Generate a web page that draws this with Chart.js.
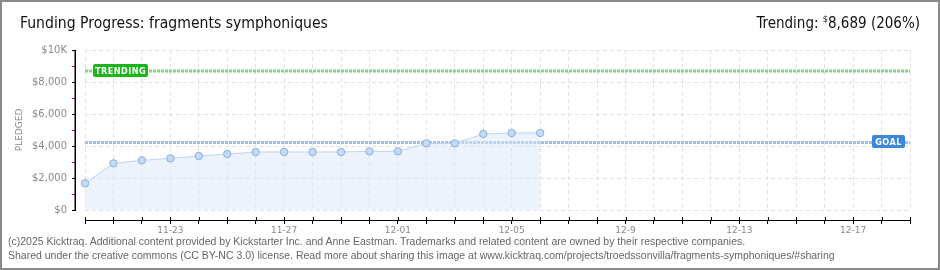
<!DOCTYPE html>
<html>
<head>
<meta charset="utf-8">
<script src="https://cdn.jsdelivr.net/npm/chart.js@4/dist/chart.umd.min.js"></script>
<style>
    body { margin: 0; background: #fff; }
    #wrap { position: relative; width: 940px; height: 270px; overflow: hidden; }
    #chart { position: absolute; left: 0; top: 0; }
    #frame { position: absolute; left: 0; top: 0; width: 940px; height: 270px; box-sizing: border-box; border: 2px solid #8a8a8a; pointer-events: none; }
    .title { position: absolute; left: 20px; top: 14px; font: 15.6px "DejaVu Sans Condensed", "DejaVu Sans", sans-serif; color: #111; white-space: nowrap; }
    .trend { position: absolute; right: 20px; top: 14px; font: 15px "DejaVu Sans Condensed", "DejaVu Sans", sans-serif; color: #111; white-space: nowrap; }
    .trend sup { font-size: 9px; vertical-align: 6px; }
    .foot { position: absolute; left: 8px; font: 10.5px "Liberation Sans", Arial, sans-serif; color: #666; white-space: nowrap; }
</style>
</head>
<body>
<div id="wrap">
    <canvas id="chart" width="940" height="270"></canvas>
    <div class="title">Funding Progress: fragments symphoniques</div>
    <div class="trend">Trending: <sup>$</sup>8,689 (206%)</div>
    <div class="foot" style="top:235px">(c)2025 Kicktraq. Additional content provided by Kickstarter Inc. and Anne Eastman. Trademarks and related content are owned by their respective companies.</div>
    <div class="foot" style="top:249px">Shared under the creative commons (CC BY-NC 3.0) license. Read more about sharing this image at www.kicktraq.com/projects/troedssonvilla/fragments-symphoniques/#sharing</div>
    <div id="frame"></div>
</div>
<script>
const days = ["11-20", "11-21", "11-22", "11-23", "11-24", "11-25", "11-26", "11-27", "11-28", "11-29", "11-30",
    "12-01", "12-02", "12-03", "12-04", "12-05", "12-06", "12-07", "12-08", "12-09", "12-10",
    "12-11", "12-12", "12-13", "12-14", "12-15", "12-16", "12-17", "12-18", "12-19"];
const pledged = [1667, 2917, 3104, 3229, 3375, 3500, 3625, 3625, 3625, 3625, 3667, 3667, 4167, 4167, 4750, 4813, 4813];
const goal = 4220;
const trending = 8689;
const dayTickLabels = ["11-23", "11-27", "12-01", "12-05", "12-9", "12-13", "12-17"];
const yMax = 10000;

// axis lines sit a few px away from the plot area, like the original
const axisLines = {
    id: "axisLines",
    afterDraw(chart) {
        const { ctx, scales: { x, y } } = chart;
        ctx.save();
        ctx.fillStyle = "#000";
        ctx.fillRect(y.right - 1.5, y.top, 1.5, y.bottom - y.top + 1);
        ctx.fillRect(x.left, x.top, x.right - x.left + 1, 1);
        x.ticks.forEach((t, i) => {
            const px = Math.round(x.getPixelForTick(i));
            ctx.fillRect(px, x.top - 3, 1, 3);
        });
        ctx.restore();
    }
};

// flag boxes sitting on the goal / trending lines
const flags = {
    id: "flags",
    afterDatasetsDraw(chart) {
        const { ctx, chartArea, scales } = chart;
        const draw = (text, value, bg, left, w) => {
            const y = Math.round(scales.y.getPixelForValue(value));
            ctx.save();
            ctx.fillStyle = bg;
            ctx.beginPath();
            ctx.roundRect(left, y - 7, w, 13, 2);
            ctx.fill();
            ctx.fillStyle = "#fff";
            ctx.font = "bold 9px 'DejaVu Sans Condensed'";
            ctx.letterSpacing = "0.5px";
            ctx.textBaseline = "middle";
            ctx.textAlign = "center";
            ctx.fillText(text, left + w / 2, y + 0.5);
            ctx.restore();
        };
        draw("TRENDING", trending, "#1cb51c", chartArea.left + 8, 55);
        draw("GOAL", goal, "#3d86d8", chartArea.right - 38, 33);
    }
};

new Chart(document.getElementById("chart"), {
    type: "line",
    data: {
        labels: days,
        datasets: [{
            data: pledged,
            borderColor: "#bcd5f3",
            borderWidth: 1,
            backgroundColor: "rgba(218, 232, 250, 0.5)",
            fill: "origin",
            pointRadius: 3.7,
            pointBackgroundColor: "#c4dbf7",
            pointBorderColor: "#8eaed6",
            pointBorderWidth: 1,
            tension: 0,
            clip: false
        }, {
            data: [{ x: days[0], y: goal }, { x: days[days.length - 1], y: goal }],
            borderColor: "#9cbfec",
            borderWidth: 3,
            borderDash: [3, 1],
            pointRadius: 0,
            fill: false
        }, {
            data: [{ x: days[0], y: trending }, { x: days[days.length - 1], y: trending }],
            borderColor: "#86d686",
            borderWidth: 3,
            borderDash: [3, 1],
            pointRadius: 0,
            fill: false
        }]
    },
    options: {
        responsive: false,
        animation: false,
        events: [],
        layout: { autoPadding: false, padding: { left: 10, top: 50, right: 30, bottom: 32 } },
        plugins: { legend: { display: false }, tooltip: { enabled: false } },
        scales: {
            x: {
                type: "category",
                weight: 1,
                grid: {
                    color: "#e2e2e2",
                    borderDash: [4, 3],
                    tickColor: "#000",
                    tickLength: 4,
                    tickWidth: 1,
                    tickBorderDash: []
                },
                border: { display: false, dash: [4, 3] },
                ticks: {
                    autoSkip: false,
                    maxRotation: 0,
                    padding: 1,
                    color: "#8a8a8a",
                    font: { family: "DejaVu Sans", size: 9 },
                    callback: (v, i) => (i % 4 === 3 ? dayTickLabels[(i - 3) / 4] : "")
                },
                afterFit: s => { s.height = 18; s.paddingLeft = 0; s.paddingRight = 0; }
            },
            xGap: {
                type: "category",
                position: "bottom",
                weight: 0,
                grid: { display: false },
                border: { display: false },
                ticks: { display: false },
                afterFit: s => { s.height = 10; s.paddingLeft = 0; s.paddingRight = 0; }
            },
            y: {
                min: 0,
                max: yMax,
                weight: 1,
                grid: {
                    color: ctx => (ctx.tick && ctx.tick.value % 2000 ? "rgba(0,0,0,0)" : "#e2e2e2"),
                    borderDash: [4, 3],
                    tickColor: ctx => (ctx.tick && ctx.tick.value % 2000 ? "#e00000" : "#000"),
                    tickLength: 4,
                    tickWidth: 1,
                    tickBorderDash: []
                },
                border: { display: false, dash: [4, 3] },
                ticks: {
                    stepSize: 1000,
                    padding: 5,
                    color: "#8a8a8a",
                    font: { family: "DejaVu Sans", size: 10 },
                    callback: v => (v % 2000 ? "" : v === yMax ? "$10K" : "$" + v.toLocaleString("en-US"))
                },
                title: {
                    display: true,
                    text: "PLEDGED",
                    color: "#8a8a8a",
                    font: { family: "DejaVu Sans", size: 9 },
                    padding: 4
                },
                afterFit: s => { s.width = 66; s.paddingTop = 0; s.paddingBottom = 0; }
            },
            yGap: {
                position: "left",
                weight: 0,
                min: 0,
                max: yMax,
                grid: { display: false },
                border: { display: false },
                ticks: { display: false },
                afterFit: s => { s.width = 9; s.paddingTop = 0; s.paddingBottom = 0; }
            }
        }
    },
    plugins: [axisLines, flags]
});
</script>
</body>
</html>
